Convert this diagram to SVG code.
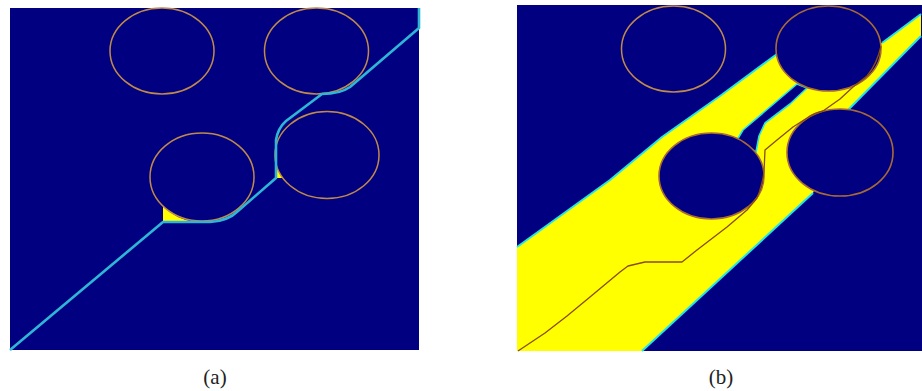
<svg xmlns="http://www.w3.org/2000/svg" width="922" height="391" viewBox="0 0 922 391">
<style>
.bg{fill:#000080}
.ring{fill:#000080;stroke:#c08a4a;stroke-width:1.5}
.ringb{fill:#000080;stroke:#a86a34;stroke-width:1.6}
.cy{fill:none;stroke:#2fb6d6;stroke-width:2.6;stroke-linejoin:round}
.yel{fill:#ffff00}
.edge{fill:none;stroke:#22e6e6;stroke-width:2;stroke-linejoin:round}
.gap{fill:#000080;stroke:#22e6e6;stroke-width:1.6;stroke-linejoin:round}
.route{fill:none;stroke:#8a4a10;stroke-width:1.3;stroke-linejoin:round}
.lbl{font-family:"Liberation Serif",serif;font-size:21px;fill:#222;text-anchor:middle}
</style>
<rect width="922" height="391" fill="#ffffff"/>
<g id="panel-a">
  <rect class="bg" x="10" y="8" width="409" height="342"/>
  <path class="yel" d="M163,206 L163,222 L195,222 A52,44 0 0 1 163,206 Z"/>
  <path class="yel" d="M276,158 L276,178 L283,178 A52,43.5 0 0 1 276,158 Z"/>
  <ellipse id="a-circle1" class="ring" cx="162" cy="51" rx="52" ry="43"/>
  <ellipse id="a-circle2" class="ring" cx="316.5" cy="51" rx="52" ry="43"/>
  <ellipse id="a-circle3" class="ring" cx="202" cy="177" rx="52" ry="44"/>
  <ellipse id="a-circle4" class="ring" cx="327" cy="155" rx="52" ry="43.5"/>
  <path id="a-path" class="cy" d="M10,350 L163,222 L210,222 Q228,221 238,211 L276,178 L276,140 Q278,128 286,121 L322,94 Q340,94 350,87 L419,28 L419,8"/>
  <text class="lbl" x="215" y="384">(a)</text>
</g>
<g id="panel-b">
  <rect class="bg" x="517" y="5" width="405" height="346"/>
  <polygon class="yel" points="517,247 610,180 662,137 720,96 777,54 830,46 882,43 921,14 921,36 848,110 813,193 642,351 517,351"/>
  <polyline class="edge" points="517,247 610,180 662,137 720,96 777,54"/>
  <polyline class="edge" points="882,43 921,14"/>
  <polyline class="edge" points="642,351 813,193"/>
  <polyline class="edge" points="848,110 921,36"/>
  <polygon class="gap" points="797,84 743,130 737,140 756,152 759,136 765,123 790,104 807,88"/>
  <ellipse id="b-circle1" class="ring" cx="673.5" cy="49" rx="52" ry="43"/>
  <ellipse id="b-circle2" class="ringb" cx="828.5" cy="48.5" rx="52.5" ry="42.5"/>
  <ellipse id="b-circle3" class="ringb" cx="711.5" cy="176" rx="52.5" ry="43"/>
  <ellipse id="b-circle4" class="ringb" cx="840" cy="152.5" rx="53" ry="43.5"/>
  <path id="b-path" class="route" d="M518,351 L545,333 L567,316 L590,297 L620,272 L628,266 L645,262 L682,262 L697,250 L727,227 L747,210 L757,198 Q762,186 764,172 L765,150 L777,140 L793,127 L807,118 Q814,113 823,111 L840,99 L853,87 L867,76 Q877,64 881,46"/>
  <text class="lbl" x="721" y="384">(b)</text>
</g>
</svg>
